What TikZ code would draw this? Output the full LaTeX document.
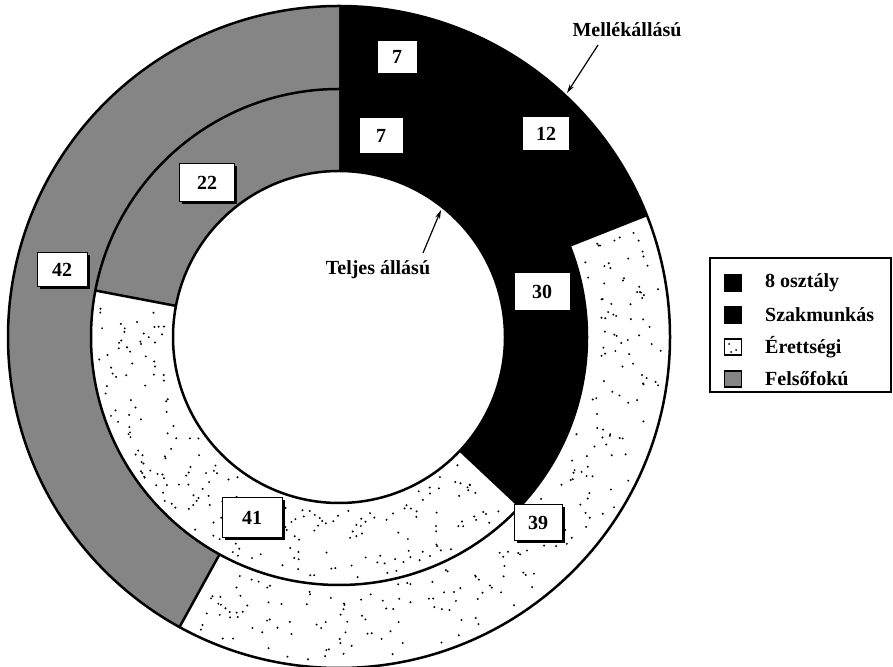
\documentclass[tikz,border=0pt]{standalone}
\usepackage{fontspec}
\setmainfont{Liberation Serif}
\usetikzlibrary{shadows,arrows.meta}
\definecolor{felso}{gray}{0.52}
\begin{document}
\begin{tikzpicture}[x=1pt,y=1pt,
  num/.style={draw=black, line width=1pt, fill=white, font=\fontsize{20}{24}\selectfont\bfseries, inner sep=0pt,
    drop shadow={shadow xshift=2.5pt, shadow yshift=-2.5pt, fill=black, opacity=1}},
  lbl/.style={font=\fontsize{20}{24}\selectfont\bfseries, inner sep=0pt},
  ring/.style={line width=2.5pt},
  dotfill/.style={fill=black},
  swatch/.style={draw=black, line width=1.2pt, minimum width=17pt, minimum height=16pt, inner sep=0pt},
  pointer/.style={line width=1.2pt, -{Stealth[length=9pt,width=5pt]}},
  ]
\useasboundingbox (0,0) rectangle (893,666);
\fill[white] (0,0) rectangle (893,666);
\coordinate (C) at (339,329);
\def\rIn{166}\def\rMid{248}\def\rOut{331}
\begin{scope}[shift={(339,329)}]
  % inner ring (Teljes allasu): 7,30,41,22
  \fill[black] (90:\rMid) arc[start angle=90,end angle=-43.2,radius=\rMid] -- (-43.2:\rIn) arc[start angle=-43.2,end angle=90,radius=\rIn] -- cycle;
  \fill[felso] (90:\rMid) arc[start angle=90,end angle=169.2,radius=\rMid] -- (169.2:\rIn) arc[start angle=169.2,end angle=90,radius=\rIn] -- cycle;
  % outer ring (Mellekallasu): 7,12,39,42
  \fill[black] (90:\rOut) arc[start angle=90,end angle=21.6,radius=\rOut] -- (21.6:\rMid) arc[start angle=21.6,end angle=90,radius=\rMid] -- cycle;
  \fill[felso] (90:\rOut) arc[start angle=90,end angle=241.2,radius=\rOut] -- (241.2:\rMid) arc[start angle=241.2,end angle=90,radius=\rMid] -- cycle;
  % sparse dots in the Erettsegi sectors
  \pgfmathsetseed{12}
  \foreach \i in {1,...,220}{
    \pgfmathsetmacro\ang{171+rnd*144}
    \pgfmathsetmacro\rad{172+rnd*70}
    \fill[dotfill] (\ang:\rad) circle[radius=1.1pt];
  }
  \foreach \i in {1,...,230}{
    \pgfmathsetmacro\ang{-117+rnd*137}
    \pgfmathsetmacro\rad{254+rnd*70}
    \fill[dotfill] (\ang:\rad) circle[radius=1.1pt];
  }
  % outlines
  \draw[ring] (0,0) circle[radius=\rOut];
  \draw[ring] (0,0) circle[radius=\rMid];
  \draw[ring] (0,0) circle[radius=\rIn];
  \draw[ring] (-43.2:\rIn) -- (-43.2:\rMid);
  \draw[ring] (169.2:\rIn) -- (169.2:\rMid);
  \draw[ring] (21.6:\rMid) -- (21.6:\rOut);
  \draw[ring] (-118.8:\rMid) -- (-118.8:\rOut);
\end{scope}
% value boxes
\node[num, minimum width=40pt, minimum height=33pt] (o7) at (397,609) {7};
\node[num, minimum width=44pt, minimum height=36pt] (i7) at (381,530) {7};
\node[num, minimum width=47pt, minimum height=34pt] (n12) at (546,532) {12};
\node[num, minimum width=55pt, minimum height=38pt] (n22) at (207,483) {22};
\node[num, minimum width=50pt, minimum height=34pt] (n42) at (62,396) {42};
\node[num, minimum width=56pt, minimum height=38pt] (n30) at (542,374) {30};
\node[num, minimum width=60pt, minimum height=40pt] (n41) at (252,148) {41};
\node[num, minimum width=48pt, minimum height=36pt] (n39) at (538,143) {39};
% ring labels with pointers
\node[lbl] (mell) at (627,636) {Mellékállású};
\coordinate (mstart) at (598,621);
\coordinate (mtip) at (567,573);
\draw[pointer] (mstart) -- (mtip);
\node[lbl] (telj) at (378,396) {Teljes állású};
\coordinate (tstart) at (423,413);
\coordinate (ttip) at (441,456);
\draw[pointer] (tstart) -- (ttip);
% legend
\draw[line width=1.2pt] (710,408) rectangle (891,274);
\node[swatch, fill=black] (s1) at (733,383) {};
\node[lbl, anchor=west] (l1) at (765,383) {8 osztály};
\node[swatch, fill=black] (s2) at (733,351) {};
\node[lbl, anchor=west] (l2) at (765,351) {Szakmunkás};
\node[swatch, fill=white] (s3) at (733,319) {};
\fill (729,322) circle[radius=1pt] (736,316) circle[radius=1pt] (731,314) circle[radius=1pt];
\node[lbl, anchor=west] (l3) at (765,319) {Érettségi};
\node[swatch, fill=felso] (s4) at (733,287) {};
\node[lbl, anchor=west] (l4) at (765,287) {Felsőfokú};
\end{tikzpicture}
\end{document}
